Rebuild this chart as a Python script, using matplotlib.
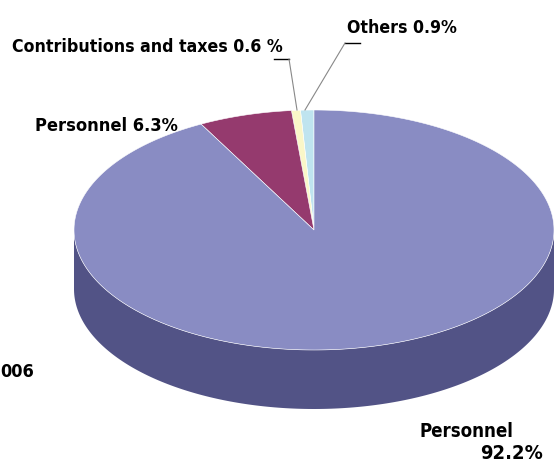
import numpy as np
import matplotlib.pyplot as plt
from matplotlib import font_manager
from matplotlib.patches import Polygon

# expense shares, counterclockwise from 12 o'clock
labels = ["Others 0.9%", "Contributions and taxes 0.6 %", "Personnel 6.3%", "Personnel\n92.2%"]
shares = [0.9, 0.6, 6.3, 92.2]
top_colors = ["#bfe4ef", "#faf7c8", "#953a6e", "#898cc3"]
side_colors = ["#8fb3bf", "#c8c59e", "#6b2550", "#525386"]

W, H = 555, 462
fig = plt.figure(figsize=(W / 100, H / 100), dpi=100)
ax = fig.add_axes([0, 0, 1, 1])
ax.set_xlim(0, W)
ax.set_ylim(H, 0)
ax.axis("off")

cx, cy, rx, ry, depth = 314, 230, 240, 120, 59

def pt(theta, dy=0):
    return cx + rx * np.cos(theta), cy - ry * np.sin(theta) + dy

fracs = np.array(shares) / sum(shares)
starts = np.pi / 2 + 2 * np.pi * np.concatenate([[0], np.cumsum(fracs)[:-1]])
ends = starts + 2 * np.pi * fracs

# side walls (front half only)
for a0, a1, c in zip(starts, ends, side_colors):
    for k in (0, 1):
        lo = max(a0, np.pi + 2 * np.pi * k)
        hi = min(a1, 2 * np.pi + 2 * np.pi * k)
        if hi <= lo:
            continue
        t = np.linspace(lo, hi, 200)
        top = [pt(a) for a in t]
        bot = [pt(a, depth) for a in t[::-1]]
        ax.add_patch(Polygon(top + bot, closed=True, fc=c, ec="none"))

# top surface
for a0, a1, c in zip(starts, ends, top_colors):
    t = np.linspace(a0, a1, max(int(400 * (a1 - a0) / (2 * np.pi)), 3))
    ax.add_patch(Polygon([(cx, cy)] + [pt(a) for a in t], closed=True,
                         fc=c, ec="white", lw=0.4))

# pick a narrow bold face if one is around
font = dict(family="DejaVu Sans", weight="bold")
for fam, stretch in [("Liberation Sans Narrow", "normal"), ("DejaVu Sans", "condensed"),
                     ("Roboto Condensed", "normal")]:
    try:
        path = font_manager.findfont(font_manager.FontProperties(
            family=fam, weight="bold", stretch=stretch), fallback_to_default=False)
        if "ondensed" in path or "arrow" in path or fam in path.replace("-", " "):
            font = dict(family=fam, weight="bold", stretch=stretch)
            break
    except ValueError:
        pass

renderer = fig.canvas.get_renderer()

def label(x, y, s, width, ha="left"):
    # size the label so it spans the given pixel width
    t = ax.text(x, y, s, ha=ha, va="baseline", fontsize=16, color="black", **font)
    w = t.get_window_extent(renderer).width
    t.set_fontsize(min(16 * width / w, 17.5))
    return t

# leader lines for the two thin slices
ax.plot([345, 360], [43, 43], color="black", lw=1)
ax.plot([345, 305], [43, 110], color="#888888", lw=0.8)
ax.plot([274, 289], [59, 59], color="black", lw=1)
ax.plot([289, 297], [59, 110], color="#888888", lw=0.8)

label(347, 33, labels[0], 110)
label(12, 52, labels[1], 271)
p = label(35, 131, labels[2], 143)
top_line, bottom_line = labels[3].split("\n")
label(513, 437, top_line, 95, ha="right")
label(543, 459, bottom_line, 63, ha="right")
ax.text(0, 377, "006", ha="left", va="baseline", fontsize=p.get_fontsize(),
        color="black", **font)

fig.savefig("out.png", dpi=100)
